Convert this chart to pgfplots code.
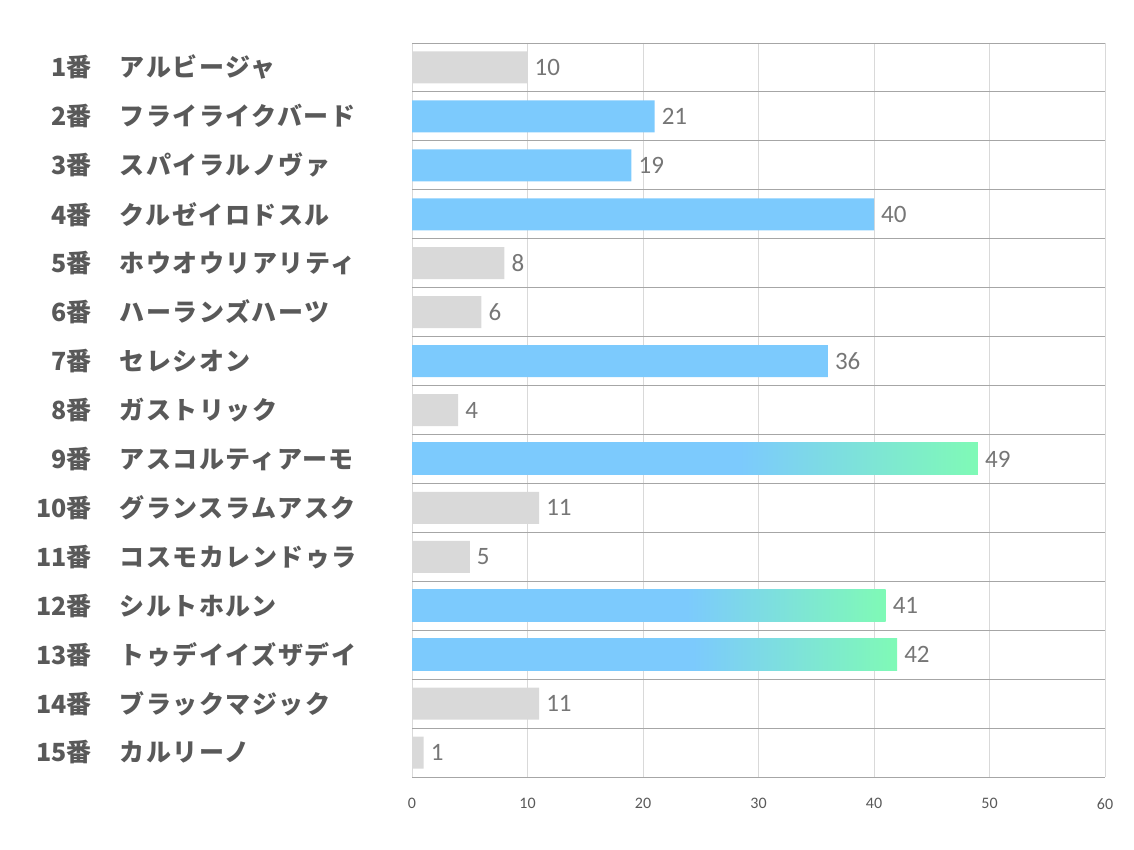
\documentclass[border=0pt]{standalone}
\usepackage{fontspec}
\setmainfont{Carlito}
\newfontfamily\jpnum{Noto Sans CJK JP}
\newfontfamily\jpname{Noto Sans CJK JP}[LetterSpace=6]
\usepackage{pgfplots}
\pgfplotsset{compat=1.18}

\definecolor{bargray}{HTML}{D9D9D9}
\definecolor{barblue}{HTML}{7CCAFD}
\definecolor{bargreen}{HTML}{7FFAB6}
\definecolor{labgray}{HTML}{595959}
\definecolor{valgray}{HTML}{767676}
\definecolor{rowline}{HTML}{A6A6A6}
\definecolor{gridgray}{HTML}{D9D9D9}

% blue for most of the bar, fading to green near its end
\pgfdeclarehorizontalshading{bargrad}{100bp}{color(0bp)=(barblue); color(25bp)=(barblue);
  color(54bp)=(barblue); color(75bp)=(bargreen); color(100bp)=(bargreen)}

\newcommand\lab[2]{\makebox[80pt][r]{\jpnum\bfseries #1}\hspace{28pt}\makebox[250pt][l]{\jpname\bfseries #2}}

\begin{document}
\begin{tikzpicture}
\useasboundingbox (0,0) rectangle (1134pt,850pt);
\begin{axis}[
    at={(412pt,73pt)}, anchor=south west,
    scale only axis,
    width=693pt, height=734pt,
    xbar, bar width=32pt, bar shift=0pt,
    xmin=0, xmax=60, ymin=0.5, ymax=15.5,
    y dir=reverse,
    axis line style={draw=none},
    major tick length=0pt,
    xtick={0,10,...,60},
    xmajorgrids,
    major grid style={draw=gridgray, line width=0.9pt},
    /pgf/number format/assume math mode=true,
    xticklabel style={font=\fontsize{16}{18}\selectfont, text=labgray, inner sep=0pt, yshift=-21pt},
    ytick={1,...,15},
    yticklabels={
        {\lab{1番}{アルビージャ}},
        {\lab{2番}{フライライクバード}},
        {\lab{3番}{スパイラルノヴァ}},
        {\lab{4番}{クルゼイロドスル}},
        {\lab{5番}{ホウオウリアリティ}},
        {\lab{6番}{ハーランズハーツ}},
        {\lab{7番}{セレシオン}},
        {\lab{8番}{ガストリック}},
        {\lab{9番}{アスコルティアーモ}},
        {\lab{10番}{グランスラムアスク}},
        {\lab{11番}{コスモカレンドゥラ}},
        {\lab{12番}{シルトホルン}},
        {\lab{13番}{トゥデイイズザデイ}},
        {\lab{14番}{ブラックマジック}},
        {\lab{15番}{カルリーノ}}},
    yticklabel style={anchor=east, inner sep=0pt, xshift=-42pt,
        font=\fontsize{25}{28}\selectfont, text=labgray},
    extra y ticks={0.5,1.5,...,15.5},
    extra y tick labels={},
    extra y tick style={ymajorgrids, major grid style={draw=rowline, line width=0.9pt}},
    nodes near coords,
    every node near coord/.append style={font=\fontsize{25}{28}\selectfont,
        text=valgray, anchor=west, inner sep=0pt, xshift=7pt},
]
% gray bars
\addplot[draw=none, fill=bargray] coordinates {
    (10,1) (8,5) (6,6) (4,8) (11,10) (5,11) (11,14) (1,15)
};
% blue bars
\addplot[draw=none, fill=barblue] coordinates {
    (21,2) (19,3) (40,4) (36,7)
};
% blue-green gradient bars, one plot each so the shading fits each bar
\addplot[draw=none, shading=bargrad] coordinates {(49,9)};
\addplot[draw=none, shading=bargrad] coordinates {(41,12)};
\addplot[draw=none, shading=bargrad] coordinates {(42,13)};
\end{axis}
\end{tikzpicture}
\end{document}
